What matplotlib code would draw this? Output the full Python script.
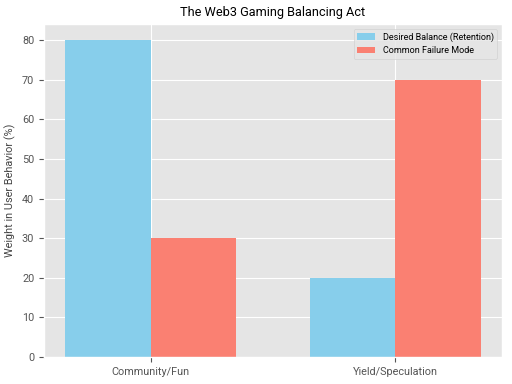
import numpy as np
import matplotlib
matplotlib.use('Agg')
import matplotlib.pyplot as plt

categories = ['Community/Fun', 'Yield/Speculation']
desired = [80, 20]
failure = [30, 70]

plt.style.use('ggplot')
plt.rcParams['font.family'] = ['Roboto', 'DejaVu Sans']

fig, ax = plt.subplots(figsize=(5.12, 3.84), dpi=100)
x = np.arange(len(categories))
width = 0.35

ax.bar(x - width / 2, desired, width, color='skyblue', label='Desired Balance (Retention)')
ax.bar(x + width / 2, failure, width, color='salmon', label='Common Failure Mode')

ax.set_title('The Web3 Gaming Balancing Act', fontsize=9.2, color='black')
ax.set_ylabel('Weight in User Behavior (%)', fontsize=7.8, color='#444444')
ax.set_xticks(x)
ax.set_xticklabels(categories)
ax.tick_params(axis='both', labelsize=7.8, colors='#555555')
ax.legend(fontsize=6.5, loc='upper right')

fig.subplots_adjust(left=0.086, right=0.98, top=0.937, bottom=0.07)
fig.savefig('out.png', dpi=100)
